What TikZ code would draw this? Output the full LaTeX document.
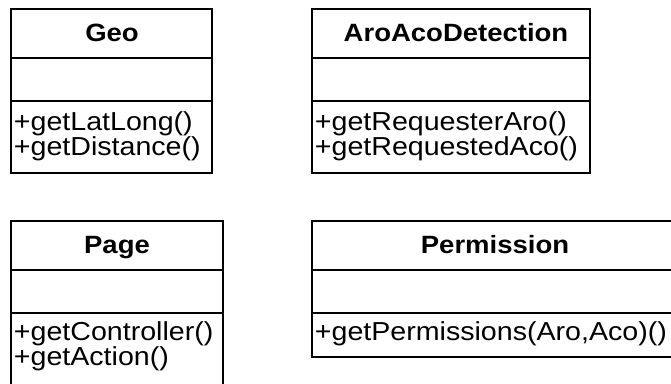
\documentclass[tikz,border=0pt]{standalone}
\usepackage{fontspec}
\setmainfont{Liberation Sans}[FakeStretch=1.1]

\begin{document}
\begin{tikzpicture}[x=1pt,y=-1pt,line width=1.8pt,line join=miter,
  classname/.style={anchor=base,inner sep=0pt,font=\fontsize{25}{26}\selectfont\bfseries},
  method/.style={anchor=base west,inner sep=0pt,font=\fontsize{26}{26}\selectfont}]

% page frame (boxes run off the right and bottom edge)
\useasboundingbox (0,0) rectangle (671,383);
\clip (0,0) rectangle (671,383);

% parameters
\def\dA{49}   % name / attribute divider below top
\def\dB{92}   % attribute / method divider below top
\def\tb{32}   % baseline of class name below top

% class boxes: left/right/top/bottom
\foreach \xl/\xr/\yt/\yb in {11/212/9/173, 312/590/9/173, 11/223/221/395, 312/678/221/357}{
  \draw (\xl,\yt) rectangle (\xr,\yb);
  \draw (\xl,\yt+\dA) -- (\xr,\yt+\dA);
  \draw (\xl,\yt+\dB) -- (\xr,\yt+\dB);
}

% class names
\node[classname] (geo)    at (112,9+\tb)   {Geo};
\node[classname] (aroaco) at (456,9+\tb)   {AroAcoDetection};
\node[classname] (page)   at (117,221+\tb) {Page};
\node[classname] (perm)   at (495,221+\tb) {Permission};

% methods
\node[method] (geo-m1)    at (13,130)  {+getLatLong()};
\node[method] (geo-m2)    at (13,155)  {+getDistance()};
\node[method] (aroaco-m1) at (314,130) {+getRequesterAro()};
\node[method] (aroaco-m2) at (314,155) {+getRequestedAco()};
\node[method] (page-m1)   at (13,340)  {+getController()};
\node[method] (page-m2)   at (13,365)  {+getAction()};
\node[method] (perm-m1)   at (314,340) {+getPermissions(Aro,Aco)()};

\end{tikzpicture}
\end{document}
